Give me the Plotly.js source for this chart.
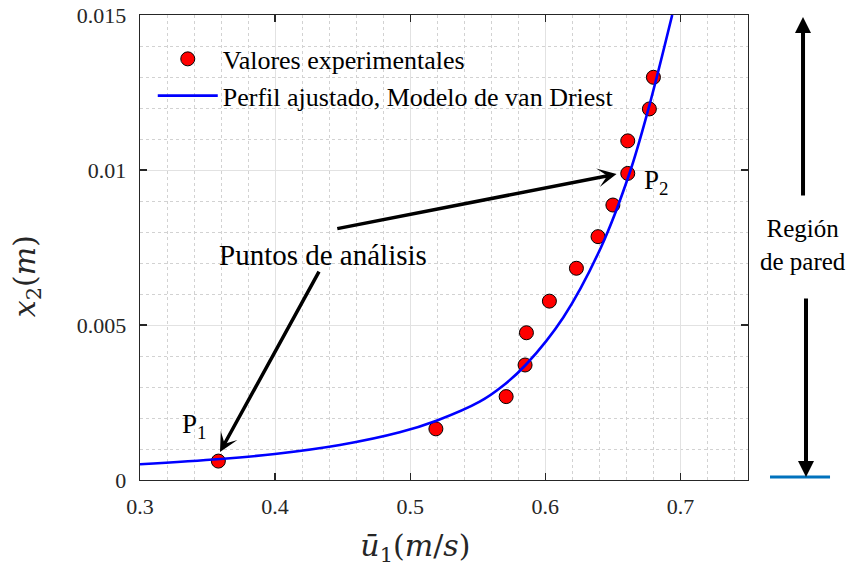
<!DOCTYPE html>
<html>
<head>
<meta charset="utf-8">
<script src="https://cdn.plot.ly/plotly-3.0.1.min.js"></script>
<style>html,body{margin:0;padding:0;background:#fff;}#chart{width:854px;height:568px;}</style>
</head>
<body>
<div id="chart"></div>
<script>
// Experimental values (u1 in m/s, x2 in m)
var expU = [0.358, 0.519, 0.571, 0.585, 0.586, 0.603, 0.623, 0.639, 0.650, 0.661, 0.661, 0.677, 0.680];
var expX = [0.00061, 0.00165, 0.00269, 0.00371, 0.00475, 0.00577, 0.00683, 0.00785, 0.00887, 0.00989, 0.01094, 0.01197, 0.01299];

// Fitted profile (van Driest model)
var fitU = [0.3000, 0.3592, 0.3998, 0.4479, 0.4922, 0.5194, 0.5514, 0.5684, 0.5854, 0.6134, 0.6414, 0.6623, 0.6763, 0.6939];
var fitX = [0.000506, 0.000677, 0.000839, 0.001129, 0.001539, 0.001913, 0.002526, 0.003032, 0.00371, 0.005252, 0.007526, 0.009894, 0.011968, 0.0150];

var seriesNames = ['Valores experimentales', 'Perfil ajustado, Modelo de van Driest'];
var xTicks = [0.3, 0.4, 0.5, 0.6, 0.7];
var yTicks = [0, 0.005, 0.01, 0.015];
var yTickText = ['0', '0.005', '0.01', '0.015'];

var SERIF = 'Liberation Serif';
var MATH = 'DejaVu Serif';
var NB = '\u00A0';
function pad(n){ return new Array(n + 1).join(NB) + '\u200B'; }

var traces = [
  {x: expU, y: expX, type: 'scatter', mode: 'markers', name: seriesNames[0],
   marker: {color: '#ff0000', size: 14, line: {color: '#000000', width: 1}}},
  {x: fitU, y: fitX, type: 'scatter', mode: 'lines', name: seriesNames[1],
   line: {color: '#0000ff', width: 2.6, shape: 'spline', smoothing: 1}}
];

var axisCommon = {
  showline: true, linecolor: '#262626', linewidth: 1.3, mirror: 'ticks',
  ticks: 'inside', ticklen: 7, tickwidth: 1.3, tickcolor: '#262626',
  tickfont: {family: SERIF, size: 22, color: '#262626'},
  showgrid: true, gridcolor: '#e2e2e2', gridwidth: 1, zeroline: false
};

var layout = {
  width: 854, height: 568,
  paper_bgcolor: '#ffffff', plot_bgcolor: '#ffffff',
  margin: {l: 140, r: 106, t: 15, b: 88, pad: 0},
  showlegend: true,
  legend: {x: 0.021, y: 0.956, xanchor: 'left', yanchor: 'top', bgcolor: 'rgba(0,0,0,0)', borderwidth: 0,
    font: {family: SERIF, size: 26, color: '#000000'}, itemwidth: 60, tracegroupgap: 0},
  xaxis: Object.assign({}, axisCommon, {
    range: [0.3, 0.75], tickvals: xTicks, ticktext: xTicks.map(String), ticklabelstandoff: 6,
    minor: {dtick: 0.02, tick0: 0.3, showgrid: true, gridcolor: '#d2d2d2', griddash: 'dot', gridwidth: 1},
    title: {text: '<i>ū</i><sub>1</sub>(<i>m</i>/<i>s</i>)' + pad(6), font: {family: MATH, size: 30, color: '#262626'}, standoff: 17}
  }),
  yaxis: Object.assign({}, axisCommon, {
    range: [0, 0.015], tickvals: yTicks, ticktext: yTickText, ticklabelstandoff: 8,
    minor: {dtick: 0.001, tick0: 0, showgrid: true, gridcolor: '#d2d2d2', griddash: 'dot', gridwidth: 1},
    title: {text: '<i>x</i><sub>2</sub>(<i>m</i>)' + pad(6), font: {family: MATH, size: 30, color: '#262626'}, standoff: 32}
  }),
  annotations: [
    {x: 0.4353, y: 0.00726, xref: 'x', yref: 'y', xanchor: 'center', text: 'Puntos de análisis', showarrow: false,
     font: {family: SERIF, size: 29, color: '#000000'}},
    {x: 0.3592, y: 0.000903, ax: 0.4331, ay: 0.00677, xref: 'x', yref: 'y', axref: 'x', ayref: 'y',
     text: '', showarrow: true, arrowhead: 3, arrowsize: 0.9, arrowwidth: 3.5, arrowcolor: '#000000', standoff: 0},
    {x: 0.6527, y: 0.00987, ax: 0.4449, ay: 0.0081, xref: 'x', yref: 'y', axref: 'x', ayref: 'y',
     text: '', showarrow: true, arrowhead: 3, arrowsize: 0.9, arrowwidth: 3.5, arrowcolor: '#000000', standoff: 0},
    {x: 0.3296, y: 0.00175, xref: 'x', yref: 'y', xanchor: 'left', yanchor: 'middle',
     text: 'P<sub>1</sub>', showarrow: false, font: {family: SERIF, size: 27, color: '#000000'}},
    {x: 0.6716, y: 0.0096, xref: 'x', yref: 'y', xanchor: 'left', yanchor: 'middle',
     text: 'P<sub>2</sub>', showarrow: false, font: {family: SERIF, size: 27, color: '#000000'}},
    {x: 1.0905, y: 0.5054, xref: 'paper', yref: 'paper', xanchor: 'center', yanchor: 'middle',
     text: 'Región<br>de pared', showarrow: false, font: {family: SERIF, size: 25, color: '#000000'}},
    {x: 1.0905, y: 0.9957, xref: 'paper', yref: 'paper', ax: 0, ay: 180, axref: 'pixel', ayref: 'pixel',
     text: '', showarrow: true, arrowhead: 2, arrowsize: 0.8, arrowwidth: 4, arrowcolor: '#000000', standoff: 0},
    {x: 1.0954, y: 0.00645, xref: 'paper', yref: 'paper', ax: 0, ay: -180, axref: 'pixel', ayref: 'pixel',
     text: '', showarrow: true, arrowhead: 2, arrowsize: 0.8, arrowwidth: 4, arrowcolor: '#000000', standoff: 0}
  ],
  shapes: [
    {type: 'line', xref: 'paper', yref: 'paper', x0: 1.0362, x1: 1.1349, y0: 0.00645, y1: 0.00645,
     line: {color: '#0072BD', width: 3}}
  ]
};

Plotly.newPlot('chart', traces, layout, {displayModeBar: false, staticPlot: true});
</script>
</body>
</html>
